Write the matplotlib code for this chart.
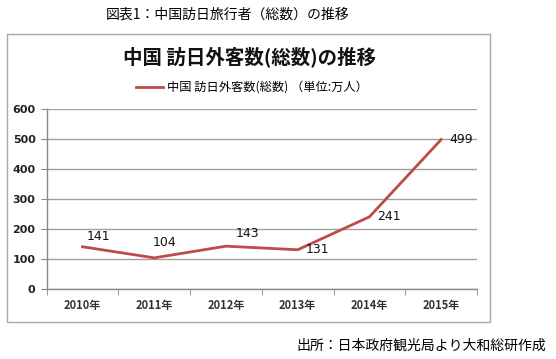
import matplotlib
matplotlib.use("Agg")
import matplotlib.pyplot as plt
from matplotlib.patches import Rectangle
import numpy as np

plt.rcParams['font.family'] = ['Noto Sans CJK JP', 'DejaVu Sans']

categories = ['2010年', '2011年', '2012年', '2013年', '2014年', '2015年']
values = [141, 104, 143, 131, 241, 499]
yticks = [0, 100, 200, 300, 400, 500, 600]
# label offsets in pixels (dx, dy)
label_offsets = [(16, 10), (10, 15), (21, 13), (20, 0), (20, 0), (20, 0)]

W, H = 556, 359
fig = plt.figure(figsize=(W / 100, H / 100), dpi=100)

def fx(px):
    return px / W

def fy(py):
    return 1 - py / H

# outer chart box
fig.patches.append(Rectangle((fx(7), fy(322)), fx(490) - fx(7), fy(34) - fy(322),
                             transform=fig.transFigure, fill=False,
                             edgecolor='#A6A6A6', linewidth=1.0))

ax = fig.add_axes([fx(46.7), fy(289), fx(477) - fx(46.7), fy(109.3) - fy(289)])
x = np.arange(len(categories))
ax.plot(x, values, color='#BE4B48', linewidth=2.0, solid_joinstyle='miter',
        label='中国 訪日外客数(総数) （単位:万人）')
ax.set_xlim(-0.5, len(categories) - 0.5)
ax.set_ylim(0, 600)
ax.set_yticks(yticks)
ax.set_yticklabels([str(t) for t in yticks], fontsize=8, fontweight='bold', color='#222222',
                   family=['DejaVu Sans'])
ax.set_xticks(x)
ax.set_xticklabels(categories, fontsize=8, fontweight='bold', color='#333333')
ax.set_xticks(np.arange(-0.5, len(categories), 1.0), minor=True)
ax.tick_params(axis='x', which='major', length=0, pad=7)
ax.tick_params(axis='x', which='minor', length=4, color='#888888', direction='out')
ax.tick_params(axis='y', length=4, color='#888888', pad=4)
ax.grid(axis='y', color='#A0A0A0', linewidth=1.0)
ax.set_axisbelow(True)
for s in ['top', 'right']:
    ax.spines[s].set_visible(False)
for s in ['left', 'bottom']:
    ax.spines[s].set_color('#888888')
    ax.spines[s].set_linewidth(1.0)

for xi, v, (dx, dy) in zip(x, values, label_offsets):
    ax.annotate(str(v), (xi, v), xytext=(dx * 0.72, dy * 0.72), textcoords='offset points',
                ha='center', va='center', fontsize=9, color='#111111',
                family=['DejaVu Sans'])

leg = fig.legend(loc='center', bbox_to_anchor=(fx(252), fy(87.5)), frameon=False,
                 fontsize=8.8, handlelength=2.2, handletextpad=0.3)

fig.text(fx(250), fy(57), '中国 訪日外客数(総数)の推移', ha='center', va='center',
         fontsize=14, fontweight='bold', color='#111111')
fig.text(fx(228), fy(15), '図表1：中国訪日旅行者（総数）の推移', ha='center', va='center',
         fontsize=10, color='#000000')
fig.text(fx(546), fy(346), '出所：日本政府観光局より大和総研作成', ha='right', va='center',
         fontsize=10, color='#000000')

fig.savefig('out.png', dpi=100)
